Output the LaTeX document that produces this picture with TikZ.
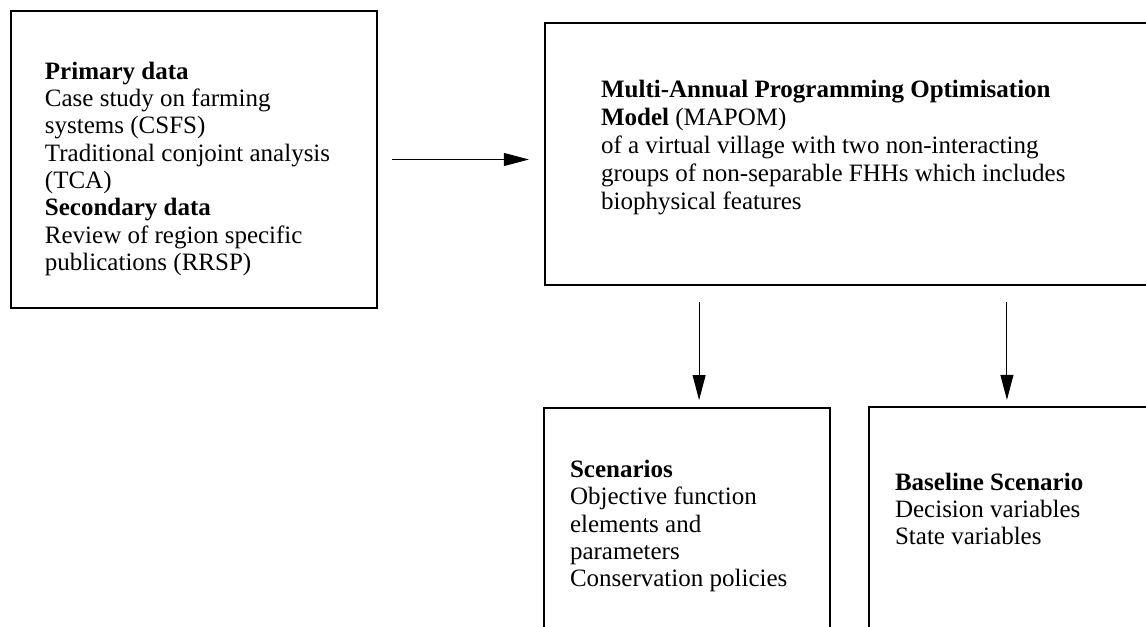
\documentclass[tikz,border=0pt]{standalone}
\usepackage{fontspec}
\setmainfont{Liberation Serif}
\usetikzlibrary{arrows.meta,positioning}

\begin{document}
\begin{tikzpicture}[node distance=1cm]
    \tikzset{
      rectnode/.style={rectangle,draw=black,line width=1pt,anchor=north west,inner sep=0pt,outer sep=0pt},
      thinrectnode/.style={rectnode,line width=0.8pt},
      textnode/.style={anchor=north west,inner sep=0pt,outer sep=0pt,align=left,font=\fontsize{12pt}{13.1pt}\selectfont},
      arrow/.style={-{Triangle[length=12pt,width=6.2pt]},line width=0.5pt}
    }
    \useasboundingbox (0,0) rectangle (550.08pt,300.48pt);
    \clip (0,0) rectangle (550.08pt,300.48pt);

    \node[rectnode,minimum width=175.68pt,minimum height=142.56pt] (data) at (5.28pt,295.2pt) {};
    \node[rectnode,minimum width=291.4pt,minimum height=125.76pt] (mapom) at (261.6pt,289.44pt) {};
    \node[thinrectnode,minimum width=137.28pt,minimum height=115pt] (scen) at (261.12pt,104.64pt) {};
    \node[thinrectnode,minimum width=135.8pt,minimum height=115pt] (base) at (417.12pt,105.12pt) {};

    \node[textnode,below right=24.5pt and 16.3pt of data.north west] (datatext)
      {\textbf{Primary data}\\Case study on farming\\systems (CSFS)\\Traditional conjoint analysis\\(TCA)\\\textbf{Secondary data}\\Review of region specific\\publications (RRSP)};
    \node[textnode,font=\fontsize{12pt}{13.4pt}\selectfont,below right=27.4pt and 26.9pt of mapom.north west] (mapomtext)
      {\textbf{Multi-Annual Programming Optimisation}\\\textbf{Model} (MAPOM)\\of a virtual village with two non-interacting\\groups of non-separable FHHs which includes\\biophysical features};
    \node[textnode,below right=25pt and 12.5pt of scen.north west] (scentext)
      {\textbf{Scenarios}\\Objective function\\elements and\\parameters\\Conservation policies};
    \node[textnode,below right=31.7pt and 12.5pt of base.north west] (basetext)
      {\textbf{Baseline Scenario}\\Decision variables\\State variables};

    \draw[arrow,shorten <=7.2pt,shorten >=7.7pt] (data.east) -- (data.east -| mapom.west);
    \draw[arrow,shorten <=8.2pt,shorten >=3.8pt] ([xshift=5.8pt]mapom.south -| scen.north) -- ([xshift=5.8pt]scen.north);
    \draw[arrow,shorten <=8.2pt,shorten >=3.4pt] ([xshift=-1.7pt]mapom.south -| base.north) -- ([xshift=-1.7pt]base.north);

\end{tikzpicture}
\end{document}
